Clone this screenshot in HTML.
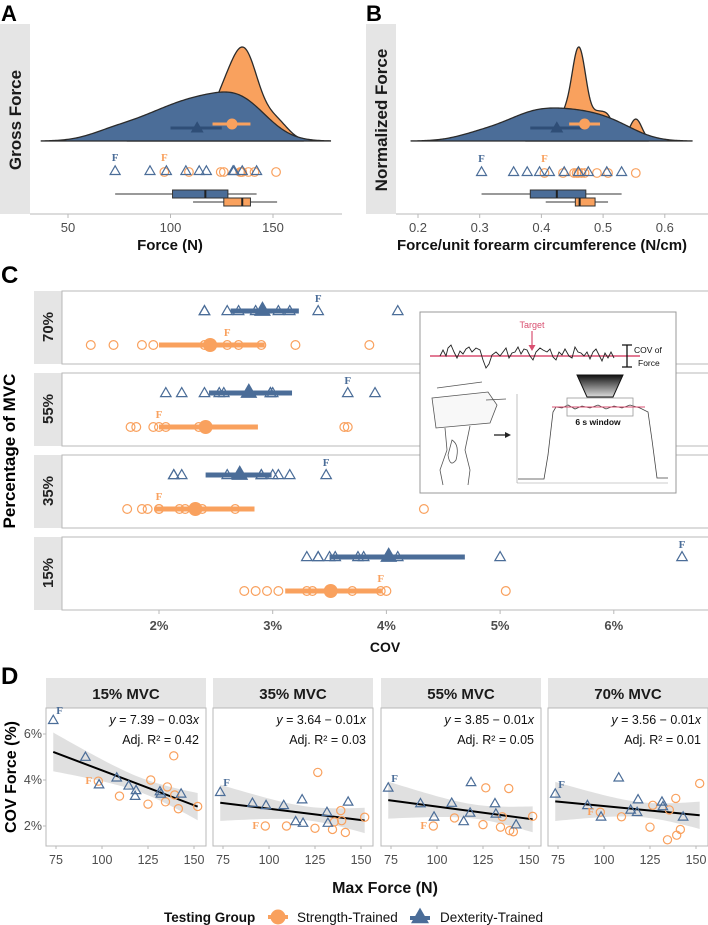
<!DOCTYPE html>
<html><head><meta charset="utf-8">
<style>
html,body{margin:0;padding:0;background:#fff;}
svg{display:block;font-family:"Liberation Sans",sans-serif;}
</style></head>
<body>
<svg id="chart" width="708" height="925" viewBox="0 0 708 925" xmlns="http://www.w3.org/2000/svg">
<defs>
<linearGradient id="trapGrad" x1="0" y1="0" x2="0" y2="1"><stop offset="0" stop-color="#111"/><stop offset="1" stop-color="#ddd"/></linearGradient>
</defs>
</svg>
<script>
// ---------- DATA ----------
const forceDexA=[73,90,98,107.5,114,117.5,130.5,131,135,142];
const forceStrA=[97,109,124.5,126,134,134.5,135,138,141,151.5];
const meanA_dex=[113,100,125];
const meanA_str=[130,120.5,139];
const boxA_dex=[73,101,117,128,142];
const boxA_str=[111,126,135,139,152];
const normDexB=[0.303,0.355,0.377,0.397,0.413,0.437,0.46,0.476,0.506,0.53];
const normStrB=[0.405,0.435,0.453,0.457,0.46,0.465,0.47,0.49,0.508,0.553];
const meanB_dex=[0.425,0.382,0.47];
const meanB_str=[0.47,0.445,0.495];
const boxB_dex=[0.303,0.382,0.425,0.472,0.53];
const boxB_str=[0.407,0.455,0.462,0.487,0.508];
const levels=["70%","55%","35%","15%"];
const dLevels=["15% MVC","35% MVC","55% MVC","70% MVC"];
const dForceDex=[73.5,91,98.4,108,114.5,118.5,118,131.5,132,143];
const dForceStr=[98,109.5,126.5,139,135.5,139.5,125,134.5,141.5,152];
const cov15Dex=[6.6,5.0,3.8,4.1,3.75,3.55,3.3,3.5,3.4,3.4];
const cov15Str=[3.95,3.3,4.0,5.05,3.7,3.35,2.95,3.05,2.75,2.85];
const cov35Dex=[3.47,3.0,2.9,2.9,2.2,2.13,3.15,2.6,2.13,3.05];
const cov35Str=[2.0,2.0,4.33,2.67,2.18,2.23,1.9,1.85,1.72,2.38];
const cov55Dex=[3.66,2.98,2.4,3.0,2.2,3.9,2.57,2.98,2.53,2.06];
const cov55Str=[2.0,2.35,3.66,3.63,2.4,1.8,2.06,1.95,1.75,2.42];
const cov70Dex=[3.4,2.9,2.4,4.1,2.7,3.15,2.6,3.05,2.85,2.4];
const cov70Str=[2.6,2.4,2.9,3.2,2.7,1.6,1.95,1.4,1.85,3.85];
const cMeanDex=[2.91,2.79,2.71,4.02];
const cLoDex=[2.63,2.44,2.41,3.5];
const cHiDex=[3.23,3.17,2.99,4.69];
const cMeanStr=[2.45,2.41,2.32,3.51];
const cLoStr=[2.0,2.0,1.96,3.11];
const cHiStr=[2.93,2.87,2.84,3.96];
const eqText=["y = 7.39 \u2212 0.03x","y = 3.64 \u2212 0.01x","y = 3.85 \u2212 0.01x","y = 3.56 \u2212 0.01x"];
const r2Text=["Adj. R\u00b2 = 0.42","Adj. R\u00b2 = 0.03","Adj. R\u00b2 = 0.05","Adj. R\u00b2 =   0.01"];
const tickA=[50,100,150];
const tickB=[0.2,0.3,0.4,0.5,0.6];
const tickC=[2,3,4,5,6];
const tickDx=[75,100,125,150];
const tickDy=[2,4,6];

// ---------- HELPERS ----------
const NS="http://www.w3.org/2000/svg";
const svg=document.getElementById("chart");
const BLUE="#4b6d98", DBLUE="#2f4e77", ORANGE="#f9a15e", GRID="#b8b8b8", STRIP="#e5e5e5";
function el(tag,attrs,parent){const e=document.createElementNS(NS,tag);for(const k in attrs)e.setAttribute(k,attrs[k]);(parent||svg).appendChild(e);return e;}
function txt(s,attrs,parent){const e=el("text",attrs,parent);e.textContent=s;return e;}
function triPts(cx,cy,w){const h=w*0.87;return (cx)+","+(cy-h*0.6)+" "+(cx-w/2)+","+(cy+h*0.4)+" "+(cx+w/2)+","+(cy+h*0.4);}
function kde(data,bw,x){let s=0;for(const d of data){const u=(x-d)/bw;s+=Math.exp(-0.5*u*u);}return s/(data.length*bw*Math.sqrt(2*Math.PI));}

// ---------- PANEL A / B (half-eye) ----------
function halfEye(o){
  const g=el("g",{});
  
  
  const st=el("rect",{x:o.stripX,y:24,width:30,height:190,fill:STRIP},g);
  
  
  const sl=txt(o.strip,{x:0,y:0,"font-size":17,"font-weight":"bold",fill:"#1a1a1a","text-anchor":"middle",transform:"translate("+(o.stripX+21)+",120) rotate(-90)"},g);
  
  
  const ax=el("line",{x1:o.stripX+30,y1:214,x2:o.stripX+342,y2:214,stroke:GRID,"stroke-width":1},g);
  
  
  const base=141;
  const dens=[[o.str,o.bwS,ORANGE,o.peakS,o.extS,"density-strength"],[o.dex,o.bwD,BLUE,o.peakD,o.extD,"density-dexterity"]];
  for(const [data,bw,col,peak,ext,nm] of dens){
    const lo=Math.min(...data)-3*bw, hi=Math.max(...data)+ext*bw;
    let mx=0;const vals=[];
    for(let i=0;i<=200;i++){const x=lo+(hi-lo)*i/200;const v=kde(data,bw,x);vals.push([x,v]);if(v>mx)mx=v;}
    let d="M"+o.sx(lo)+","+base;
    for(const [x,v] of vals)d+=" L"+o.sx(x).toFixed(2)+","+(base-v/mx*peak).toFixed(2);
    d+=" L"+o.sx(hi)+","+base+" Z";
    const p=el("path",{d:d,fill:col,stroke:"#2b2b2b","stroke-width":1.3},g);
    
    
  }
  const ld=el("line",{x1:o.sx(o.mDex[1]),y1:128,x2:o.sx(o.mDex[2]),y2:128,stroke:DBLUE,"stroke-width":3},g);
  
  
  const td=el("polygon",{points:triPts(o.sx(o.mDex[0]),128,13),fill:DBLUE},g);
  
  
  const ls=el("line",{x1:o.sx(o.mStr[1]),y1:124,x2:o.sx(o.mStr[2]),y2:124,stroke:ORANGE,"stroke-width":3},g);
  
  
  const cs=el("circle",{cx:o.sx(o.mStr[0]),cy:124,r:5.5,fill:ORANGE},g);
  
  
  o.str.forEach((v,i)=>{
    const c=el("circle",{cx:o.sx(v),cy:o.ptY+1,r:4.3,fill:"none",stroke:ORANGE,"stroke-width":1.2},g);
    
    
  });
  o.dex.forEach((v,i)=>{
    const t=el("polygon",{points:triPts(o.sx(v),o.ptY,10),fill:"none",stroke:BLUE,"stroke-width":1.2},g);
    
    
  });
  const fd=txt("F",{x:o.sx(o.dex[0]),y:o.ptY-10,"font-size":11,"font-weight":"bold","font-family":"Liberation Serif, serif",fill:BLUE,"text-anchor":"middle"},g);
  
  
  const fs=txt("F",{x:o.sx(o.str[0]),y:o.ptY-10,"font-size":11,"font-weight":"bold","font-family":"Liberation Serif, serif",fill:ORANGE,"text-anchor":"middle"},g);
  
  
  for(const [b,y0,col,nm] of [[o.bDex,190,BLUE,"boxplot-dexterity"],[o.bStr,198,ORANGE,"boxplot-strength"]]){
    const bg=el("g",{},g);
    
    
    el("line",{x1:o.sx(b[0]),y1:y0+4,x2:o.sx(b[4]),y2:y0+4,stroke:"#333","stroke-width":1},bg);
    el("rect",{x:o.sx(b[1]),y:y0,width:o.sx(b[3])-o.sx(b[1]),height:8,fill:col,stroke:"#333","stroke-width":1},bg);
    el("line",{x1:o.sx(b[2]),y1:y0,x2:o.sx(b[2]),y2:y0+8,stroke:"#222","stroke-width":2},bg);
  }
  o.ticks.forEach(t=>{
    el("line",{x1:o.sx(t),y1:214,x2:o.sx(t),y2:218,stroke:GRID},g);
    const tl=txt(o.fmt(t),{x:o.sx(t),y:232,"font-size":13,fill:"#4d4d4d","text-anchor":"middle"},g);
    
    
  });
  const at=txt(o.title,{x:o.titleX,y:250,"font-size":15,"font-weight":"bold",fill:"#111","text-anchor":"middle"},g);
  
  
  const pl=txt(o.letter,{x:o.letterX,y:21,"font-size":22,"font-weight":"bold",fill:"#000"},g);
  
  
}
halfEye({name:"panel-a",stripX:0,strip:"Gross Force",sx:v=>68+(v-50)*2.05,dex:forceDexA,str:forceStrA,bwD:12,bwS:6,extD:3,extS:2.2,peakD:49,peakS:94,mDex:meanA_dex,mStr:meanA_str,bDex:boxA_dex,bStr:boxA_str,ptY:171,ticks:tickA,fmt:t=>String(t),title:"Force (N)",titleX:170,letter:"A",letterX:1});
halfEye({name:"panel-b",stripX:366,strip:"Normalized Force",sx:v=>418+(v-0.2)*617,dex:normDexB,str:normStrB,bwD:0.038,bwS:0.01,extD:3,extS:2,peakD:33,peakS:94,mDex:meanB_dex,mStr:meanB_str,bDex:boxB_dex,bStr:boxB_str,ptY:172,ticks:tickB,fmt:t=>t.toFixed(1),title:"Force/unit forearm circumference (N/cm)",titleX:542,letter:"B",letterX:366});

// ---------- PANEL C ----------
const covDexByRow=[cov70Dex,cov55Dex,cov35Dex,cov15Dex];
const covStrByRow=[cov70Str,cov55Str,cov35Str,cov15Str];
const cx=p=>159+(p-2)*113.7;
const rowTop=[291,373,455,537];
const gC=el("g",{});


const cL=txt("C",{x:1,y:283,"font-size":24,"font-weight":"bold",fill:"#000"},gC);


const cY=txt("Percentage of MVC",{x:0,y:0,"font-size":17,"font-weight":"bold",fill:"#000","text-anchor":"middle",transform:"translate(15,451) rotate(-90)"},gC);


levels.forEach((lv,r)=>{
  const top=rowTop[r];
  const rg=el("g",{},gC);
  
  
  const s=el("rect",{x:34,y:top,width:28,height:73,fill:STRIP},rg);
  
  
  const sl=txt(lv,{x:0,y:0,"font-size":15,"font-weight":"bold",fill:"#222","text-anchor":"middle",transform:"translate(53,"+(top+36)+") rotate(-90)"},rg);
  
  
  const fr=el("rect",{x:62,y:top,width:650,height:73,fill:"#fff",stroke:GRID,"stroke-width":1},rg);
  
  
  const ty=top+20, cy=top+54;
  covDexByRow[r].forEach(v=>{
    const t=el("polygon",{points:triPts(cx(v),ty,10.5),fill:"none",stroke:BLUE,"stroke-width":1.2},rg);
    
    
  });
  covStrByRow[r].forEach(v=>{
    const c=el("circle",{cx:cx(v),cy:cy,r:4.4,fill:"none",stroke:ORANGE,"stroke-width":1.2},rg);
    
    
  });
  const ld=el("line",{x1:cx(cLoDex[r]),y1:ty,x2:cx(cHiDex[r]),y2:ty,stroke:BLUE,"stroke-width":5},rg);
  
  
  const md=el("polygon",{points:triPts(cx(cMeanDex[r]),ty-1,17),fill:BLUE},rg);
  
  
  const ls=el("line",{x1:cx(cLoStr[r]),y1:cy,x2:cx(cHiStr[r]),y2:cy,stroke:ORANGE,"stroke-width":5},rg);
  
  
  const ms=el("circle",{cx:cx(cMeanStr[r]),cy:cy,r:7,fill:ORANGE},rg);
  
  
  const fd=txt("F",{x:cx(covDexByRow[r][0]),y:ty-9,"font-size":11,"font-weight":"bold","font-family":"Liberation Serif, serif",fill:BLUE,"text-anchor":"middle"},rg);
  
  
  const fs=txt("F",{x:cx(covStrByRow[r][0]),y:cy-9,"font-size":11,"font-weight":"bold","font-family":"Liberation Serif, serif",fill:ORANGE,"text-anchor":"middle"},rg);
  
  
});
tickC.forEach(t=>{
  el("line",{x1:cx(t),y1:610,x2:cx(t),y2:614,stroke:GRID},gC);
  const tl=txt(t+"%",{x:cx(t),y:630,"font-size":13,"font-weight":"bold",fill:"#4d4d4d","text-anchor":"middle"},gC);
  
  
});
const cT=txt("COV",{x:385,y:652,"font-size":14,"font-weight":"bold",fill:"#111","text-anchor":"middle"},gC);



// inset schematic
const gi=el("g",{},gC);


el("rect",{x:420,y:312,width:256,height:181,fill:"#fff",stroke:"#999","stroke-width":1},gi);
const tg=txt("Target",{x:532,y:328,"font-size":9,fill:"#d94f70","text-anchor":"middle"},gi);


el("line",{x1:532,y1:331,x2:532,y2:346,stroke:"#d94f70","stroke-width":1.2},gi);
el("polygon",{points:"528.5,345 535.5,345 532,351",fill:"#d94f70"},gi);
el("line",{x1:430,y1:356,x2:640,y2:356,stroke:"#d94f70","stroke-width":1.5},gi);
el("polyline",{points:"440,356 443,350 446,356 448,348 451,345 454,352 457,358 460,351 463,354 466,349 469,347 472,352 476,348 480,350 483,360 486,368 489,364 492,355 496,352 500,356 503,352 506,348 509,358 512,353 515,352 518,347 521,354 524,349 527,350 530,356 533,360 536,352 540,348 543,350 547,352 550,349 553,357 556,360 559,352 562,355 565,349 569,356 572,358 575,347 578,352 581,353 584,356 587,352 590,359 593,352 596,349 599,355 602,361 605,353 608,358 611,352 614,358",fill:"none",stroke:"#222","stroke-width":0.9},gi);
el("path",{d:"M622,345 H632 M627,345 V367 M622,367 H632",stroke:"#111","stroke-width":1.3,fill:"none"},gi);
const cv1=txt("COV of",{x:634,y:353,"font-size":8.5,fill:"#111"},gi);


const cv2=txt("Force",{x:638,y:366,"font-size":8.5,fill:"#111"},gi);


el("polygon",{points:"577,375 623,375 613,397 587,397",fill:"url(#trapGrad)",stroke:"#111","stroke-width":1},gi);
el("line",{x1:517,y1:394,x2:517,y2:483,stroke:"#999","stroke-width":0.6},gi);
el("line",{x1:517,y1:483,x2:668,y2:483,stroke:"#999","stroke-width":0.6},gi);
el("polyline",{points:"518,479 544,479 548,455 553,412 556,407 562,408 568,405 575,409 582,406 590,408 598,405 606,409 614,406 622,408 630,405 640,408 648,412 652,440 657,478 668,478",fill:"none",stroke:"#444","stroke-width":0.8},gi);
el("rect",{x:567,y:398,width:66,height:18,fill:"none",stroke:"#999","stroke-width":0.8},gi);
el("line",{x1:552,y1:407,x2:645,y2:407,stroke:"#d94f70","stroke-width":1},gi);
const sw=txt("6 s window",{x:598,y:425,"font-size":8.5,"font-weight":"bold",fill:"#111","text-anchor":"middle"},gi);


el("path",{d:"M432,398 L488,392 L497,405 L490,423 L436,428 Z M437,388 L482,382 M486,400 L506,399",fill:"#f8f8f8",stroke:"#555","stroke-width":0.8},gi);
el("path",{d:"M445,428 L447,450 L440,470 L443,485 M470,426 L465,450 L470,470 L468,485 M452,440 Q460,445 456,460 Q450,468 448,455 Z",fill:"none",stroke:"#555","stroke-width":0.8},gi);
el("path",{d:"M494,435 L506,435",stroke:"#222","stroke-width":1.3},gi);
el("polygon",{points:"505,432 511,435 505,438",fill:"#222"},gi);

// ---------- PANEL D ----------
const covDexByLvl=[cov15Dex,cov35Dex,cov55Dex,cov70Dex];
const covStrByLvl=[cov15Str,cov35Str,cov55Str,cov70Str];
const pLeft=[46,213,381,548];
const PW=160, PT=708, PB=846;
const dy=p=>780-(p-4)*23;
const gD=el("g",{});


const dL=txt("D",{x:1,y:684,"font-size":24,"font-weight":"bold",fill:"#000"},gD);


const dYt=txt("COV Force (%)",{x:0,y:0,"font-size":16,"font-weight":"bold",fill:"#000","text-anchor":"middle",transform:"translate(16,777) rotate(-90)"},gD);


dLevels.forEach((lv,k)=>{
  const L=pLeft[k];
  const dx=n=>L+10+(n-75)*1.84;
  const g=el("g",{},gD);
  
  
  const s=el("rect",{x:L,y:678,width:PW,height:30,fill:STRIP},g);
  
  
  const st=txt(lv,{x:L+PW/2,y:699,"font-size":15,"font-weight":"bold",fill:"#1a1a1a","text-anchor":"middle"},g);
  
  
  const fr=el("rect",{x:L,y:PT,width:PW,height:PB-PT,fill:"#fff",stroke:GRID,"stroke-width":1},g);
  
  
  const xs=dForceDex.concat(dForceStr), ys=covDexByLvl[k].concat(covStrByLvl[k]);
  const n=xs.length, mx=xs.reduce((a,b)=>a+b)/n, my=ys.reduce((a,b)=>a+b)/n;
  let sxx=0,sxy=0;for(let i=0;i<n;i++){sxx+=(xs[i]-mx)**2;sxy+=(xs[i]-mx)*(ys[i]-my);}
  const b1=sxy/sxx, b0=my-b1*mx;
  let sse=0;for(let i=0;i<n;i++)sse+=(ys[i]-b0-b1*xs[i])**2;
  const sd=Math.sqrt(sse/(n-2)), tq=2.101;
  const x0=Math.min(...xs), x1=Math.max(...xs);
  let up="",dn="";
  for(let i=0;i<=40;i++){
    const x=x0+(x1-x0)*i/40, yh=b0+b1*x, se=sd*Math.sqrt(1/n+(x-mx)**2/sxx);
    up+=(i?" L":"M")+dx(x).toFixed(2)+","+Math.max(PT,dy(yh+tq*se)).toFixed(2);
    dn=" L"+dx(x).toFixed(2)+","+Math.min(PB,dy(yh-tq*se)).toFixed(2)+dn;
  }
  const band=el("path",{d:up+dn+" Z",fill:"#999","fill-opacity":0.3},g);
  
  
  const rl=el("line",{x1:dx(x0),y1:dy(b0+b1*x0),x2:dx(x1),y2:dy(b0+b1*x1),stroke:"#000","stroke-width":2},g);
  
  
  dForceStr.forEach((f,i)=>{
    const c=el("circle",{cx:dx(f),cy:dy(covStrByLvl[k][i]),r:4.1,fill:"none",stroke:ORANGE,"stroke-width":1.2},g);
    
    
  });
  dForceDex.forEach((f,i)=>{
    const t=el("polygon",{points:triPts(dx(f),dy(covDexByLvl[k][i]),9.5),fill:"none",stroke:BLUE,"stroke-width":1.2},g);
    
    
  });
  const fd=txt("F",{x:dx(dForceDex[0])+3,y:dy(covDexByLvl[k][0])-6,"font-size":11,"font-weight":"bold","font-family":"Liberation Serif, serif",fill:BLUE},g);
  
  
  const fs=txt("F",{x:dx(dForceStr[0])-13,y:dy(covStrByLvl[k][0])+3,"font-size":11,"font-weight":"bold","font-family":"Liberation Serif, serif",fill:ORANGE},g);
  
  
  const eq=el("text",{x:L+PW-7,y:724,"font-size":12.5,fill:"#111","text-anchor":"end"},g);
  
  
  const it=el("tspan",{"font-style":"italic"},eq);it.textContent="y";
  const t2=el("tspan",{},eq);t2.textContent=eqText[k].slice(1,-1);
  const t3=el("tspan",{"font-style":"italic"},eq);t3.textContent="x";
  const r2=txt(r2Text[k],{x:L+PW-7,y:744,"font-size":12.5,fill:"#111","text-anchor":"end","xml:space":"preserve"},g);
  
  
  tickDx.forEach(t=>{
    el("line",{x1:dx(t),y1:PB,x2:dx(t),y2:PB+3,stroke:GRID},g);
    const tl=txt(String(t),{x:dx(t),y:864,"font-size":12.5,fill:"#4d4d4d","text-anchor":"middle"},g);
    
    
  });
  if(k===0){
    tickDy.forEach(t=>{
      el("line",{x1:L-3,y1:dy(t),x2:L,y2:dy(t),stroke:GRID},g);
      const tl=txt(t+"%",{x:L-4,y:dy(t)+4,"font-size":12.5,fill:"#4d4d4d","text-anchor":"end"},g);
      
      
    });
  }
});
const dX=txt("Max Force (N)",{x:385,y:893,"font-size":16,"font-weight":"bold",fill:"#111","text-anchor":"middle"},gD);



// legend
const lg=el("g",{});


const lt=txt("Testing Group",{x:164,y:922,"font-size":13.5,"font-weight":"bold",fill:"#111"},lg);


const le1=el("g",{},lg);


el("line",{x1:268,y1:917,x2:288,y2:917,stroke:ORANGE,"stroke-width":4},le1);
el("circle",{cx:278,cy:917,r:7.5,fill:ORANGE},le1);
txt("Strength-Trained",{x:297,y:922,"font-size":13.5,fill:"#111"},le1);
const le2=el("g",{},lg);


el("line",{x1:410,y1:918,x2:430,y2:918,stroke:BLUE,"stroke-width":4},le2);
el("polygon",{points:triPts(420,917,18),fill:BLUE},le2);
txt("Dexterity-Trained",{x:440,y:922,"font-size":13.5,fill:"#111"},le2);
</script>
</body></html>
